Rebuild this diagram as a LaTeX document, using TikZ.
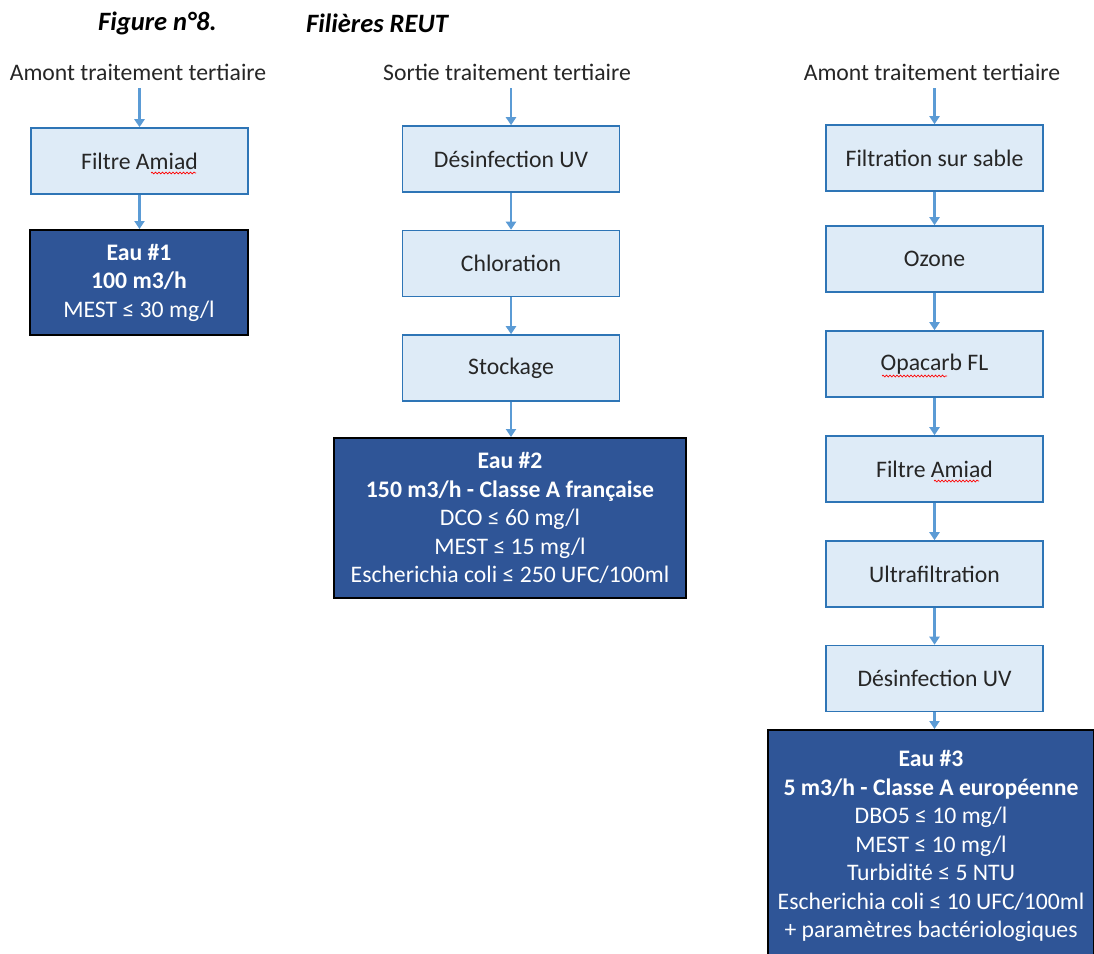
\documentclass[tikz,border=0pt]{standalone}
\usepackage{fontspec}
\setmainfont{Carlito}
\usetikzlibrary{arrows.meta,decorations.pathmorphing,calc}
\definecolor{lightfill}{HTML}{DEEBF7}
\definecolor{lightedge}{HTML}{2E75B6}
\definecolor{arrowc}{HTML}{5B9BD5}
\definecolor{darkfill}{HTML}{2F5597}
\definecolor{txt}{HTML}{262626}
\begin{document}
\begin{tikzpicture}[x=1pt,y=-1pt,
  font=\fontsize{23.7}{28.5}\selectfont,
  proc/.style={draw=lightedge, fill=lightfill, line width=1.6pt, minimum width=217pt, minimum height=66pt, inner sep=0pt, text=txt},
  res/.style={draw=black, fill=darkfill, line width=2pt, text=white, align=center, inner sep=0pt},
  flow/.style={arrowc, line width=2.4pt, -{Triangle[width=10pt,length=8pt]}},
  lbl/.style={text=txt, inner sep=0pt},
  ttl/.style={text=black, inner sep=0pt, anchor=west, font=\fontsize{26.5}{30}\selectfont\bfseries\itshape},
  spell/.style={red, line width=0.7pt, decorate, decoration={snake, amplitude=0.9pt, segment length=3.5pt}}]
\useasboundingbox (0,0) rectangle (1094,953);
\fill[white] (0,0) rectangle (1094,953);

% title
\node[ttl] (t1) at (98,23) {Figure n°8.};
\node[ttl] (t2) at (306,23) {Filières REUT};

% column 1
\node[lbl] (l1) at (138,72) {Amont traitement tertiaire};
\node[proc] (a1) at (139.5,161) {Filtre Amiad};
\node[res, minimum width=218pt, minimum height=105pt] (r1) at (139,282.5) {\textbf{Eau \#1}\\\textbf{100 m3/h}\\MEST ≤ 30 mg/l};
\draw[flow, shorten <=8pt] (a1.north |- l1.south) -- (a1.north);
\draw[flow] (a1.south) -- (a1.south |- r1.north);

% column 2
\node[lbl] (l2) at (507,72) {Sortie traitement tertiaire};
\node[proc] (b1) at (511,159) {Désinfection UV};
\node[proc] (b2) at (511,263.5) {Chloration};
\node[proc] (b3) at (511,368) {Stockage};
\node[res, minimum width=352pt, minimum height=160pt] (r2) at (510,518) {\textbf{Eau \#2}\\\textbf{150 m3/h - Classe A française}\\DCO ≤ 60 mg/l\\MEST ≤ 15 mg/l\\Escherichia coli ≤ 250 UFC/100ml};
\draw[flow, shorten <=8pt] (b1.north |- l2.south) -- (b1.north);
\draw[flow] (b1) -- (b2);
\draw[flow] (b2) -- (b3);
\draw[flow] (b3.south) -- (b3.south |- r2.north);

% column 3
\node[lbl] (l3) at (932,72) {Amont traitement tertiaire};
\node[proc] (c1) at (934.5,158) {Filtration sur sable};
\node[proc] (c2) at (934.5,259) {Ozone};
\node[proc] (c3) at (934.5,364) {Opacarb FL};
\node[proc] (c4) at (934.5,469) {Filtre Amiad};
\node[proc] (c5) at (934.5,574) {Ultrafiltration};
\node[proc] (c6) at (934.5,678.5) {Désinfection UV};
\node[res, minimum width=326pt, minimum height=232pt] (r3) at (931,846) {\textbf{Eau \#3}\\\textbf{5 m3/h - Classe A européenne}\\DBO5 ≤ 10 mg/l\\MEST ≤ 10 mg/l\\Turbidité ≤ 5 NTU\\Escherichia coli ≤ 10 UFC/100ml\\+ paramètres bactériologiques};
\draw[flow, shorten <=8pt] (c1.north |- l3.south) -- (c1.north);
\draw[flow] (c1) -- (c2);
\draw[flow] (c2) -- (c3);
\draw[flow] (c3) -- (c4);
\draw[flow] (c4) -- (c5);
\draw[flow] (c5) -- (c6);
\draw[flow] (c6.south) -- (c6.south |- r3.north);

% spell-check underlines
\draw[spell] ($(a1.center)+(11.5,12)$) -- ($(a1.center)+(56.5,12)$);
\draw[spell] ($(c4.center)+(-0.5,12)$) -- ($(c4.center)+(44.5,12)$);
\draw[spell] ($(c3.center)+(-52.5,12)$) -- ($(c3.center)+(12.5,12)$);
\end{tikzpicture}
\end{document}
